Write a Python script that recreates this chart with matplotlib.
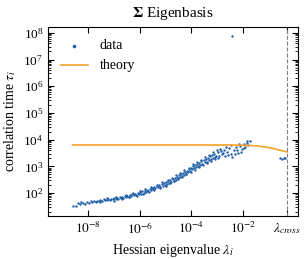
import numpy as np
import matplotlib
matplotlib.use("Agg")
import matplotlib.pyplot as plt
from matplotlib.ticker import LogLocator, NullLocator, NullFormatter

plt.rcParams['font.family'] = 'Liberation Serif'
plt.rcParams['mathtext.fontset'] = 'stix'

# data (log10 of eigenvalue, log10 of correlation time)
data_logx = [-8.58, -8.45, -8.40, -8.33, -8.28, -8.20, -8.12, -8.05, -7.98, -7.90, -7.84, -7.77,
             -7.70, -7.64, -7.58, -7.52, -7.46, -7.40, -7.34, -7.28, -7.22, -7.16, -7.10, -7.04,
             -6.98, -6.93, -6.88, -6.83, -6.78, -6.73, -6.68, -6.63, -6.58, -6.53, -6.48, -6.43,
             -6.38, -6.33, -6.28, -6.23, -6.18, -6.13, -6.08, -6.03,
             -5.98, -5.94, -5.90, -5.85, -5.80, -5.76, -5.72, -5.67, -5.62, -5.58, -5.54, -5.50,
             -5.45, -5.40, -5.35, -5.30, -5.25, -5.20, -5.15, -5.10, -5.05, -5.02,
             -4.97, -4.93, -4.89, -4.85, -4.81, -4.77, -4.73, -4.69, -4.65, -4.61, -4.57, -4.53,
             -4.49, -4.45, -4.41, -4.37, -4.33, -4.29, -4.25, -4.21, -4.17, -4.13, -4.09, -4.05, -4.01,
             -3.97, -3.93, -3.89, -3.85, -3.81, -3.77, -3.73, -3.69, -3.65, -3.61, -3.57, -3.53,
             -3.49, -3.45, -3.41, -3.37, -3.33, -3.29, -3.25, -3.21, -3.17, -3.13, -3.09, -3.05,
             -2.98, -2.92, -2.86, -2.80, -2.74, -2.68, -2.62, -2.55, -2.48, -2.42, -2.35, -2.28,
             -2.20, -2.12, -2.05, -1.98, -1.92, -1.86, -1.80, -1.74,
             -0.58, -0.50, -0.42, -0.36,
             -2.43,
             # second layer filling out the band
             -7.55, -7.25, -7.00, -6.90, -6.70, -6.55, -6.40, -6.25, -6.10, -6.00,
             -5.88, -5.78, -5.65, -5.55, -5.43, -5.33, -5.22, -5.12, -5.00, -4.91,
             -4.83, -4.75, -4.67, -4.59, -4.51, -4.43, -4.35, -4.27, -4.19, -4.11,
             -4.03, -3.95, -3.87, -3.79, -3.71, -3.63, -3.55, -3.47, -3.39, -3.31,
             -3.23, -3.15, -3.07, -3.01, -2.95, -2.89, -2.77, -2.65, -2.58, -2.45,
             -2.32, -2.24, -2.16, -2.08, -1.95, -1.83]
data_logy = [1.52, 1.50, 1.62, 1.58, 1.65, 1.63, 1.60, 1.67, 1.64, 1.69, 1.66, 1.70,
             1.68, 1.72, 1.69, 1.74, 1.71, 1.76, 1.73, 1.75, 1.78, 1.74, 1.79, 1.77,
             1.80, 1.76, 1.82, 1.79, 1.84, 1.80, 1.86, 1.83, 1.88, 1.85, 1.90, 1.87,
             1.93, 1.89, 1.95, 1.92, 1.97, 1.94, 2.00, 1.96,
             2.03, 1.98, 2.06, 2.02, 2.09, 2.05, 2.12, 2.08, 2.15, 2.11, 2.19, 2.14,
             2.22, 2.18, 2.25, 2.21, 2.29, 2.24, 2.33, 2.28, 2.37, 2.31,
             2.40, 2.34, 2.44, 2.39, 2.48, 2.42, 2.52, 2.46, 2.56, 2.50, 2.60, 2.55,
             2.66, 2.60, 2.70, 2.64, 2.74, 2.69, 2.79, 2.73, 2.84, 2.78, 2.89, 2.83, 2.95,
             2.90, 3.00, 2.93, 3.05, 2.97, 3.10, 3.02, 3.14, 3.06, 3.19, 3.10, 3.24,
             3.15, 3.29, 3.18, 3.33, 3.22, 3.38, 3.26, 3.42, 3.30, 3.47, 3.35, 3.40,
             3.52, 3.38, 3.58, 3.45, 3.62, 3.40, 3.55, 3.68, 3.48, 3.35, 3.60, 3.72,
             3.50, 3.78, 3.65, 3.85, 3.74, 3.88, 3.80, 3.93,
             3.32, 3.28, 3.30, 3.33,
             7.88,
             1.66, 1.81, 1.72, 1.86, 1.77, 1.93, 1.84, 2.01, 1.90, 2.07,
             1.96, 2.14, 2.03, 2.22, 2.10, 2.31, 2.18, 2.40, 2.28, 2.50,
             2.36, 2.58, 2.44, 2.66, 2.52, 2.76, 2.61, 2.86, 2.70, 2.94,
             2.80, 3.07, 2.88, 3.15, 2.96, 3.24, 3.04, 3.34, 3.12, 3.44,
             3.20, 3.53, 3.28, 3.60, 3.30, 3.66, 3.50, 3.72, 3.42, 3.80,
             3.45, 3.62, 3.84, 3.55, 3.70, 3.95]

theory_logx = [-8.6, -6.0, -4.0, -3.0, -2.5, -2.0, -1.7, -1.4, -1.1, -0.8, -0.55, -0.3]
theory_logy = [3.80, 3.80, 3.80, 3.80, 3.80, 3.79, 3.78, 3.76, 3.72, 3.66, 3.60, 3.54]

lam_cross = 10 ** -0.3
xtick_vals = [1e-8, 1e-6, 1e-4, 1e-2, lam_cross]
xtick_labels = [r'$10^{-8}$', r'$10^{-6}$', r'$10^{-4}$', r'$10^{-2}$', r'$\lambda_{cross}$']

fig = plt.figure(figsize=(3.06, 2.59), dpi=100)
ax = fig.add_axes([0.157, 0.166, 0.817, 0.730])

ax.scatter(np.power(10.0, data_logx), np.power(10.0, data_logy), s=3, color='#1f5fa8',
           linewidths=0, label='data')
ax.plot(np.power(10.0, theory_logx), np.power(10.0, theory_logy), color='#f7a32a', lw=1.2,
        label='theory')
ax.axvline(lam_cross, color='gray', ls='--', lw=0.8)

ax.set_xscale('log')
ax.set_yscale('log')
ax.set_xlim(10 ** -9.55, 10 ** 0.13)
ax.set_ylim(10 ** 1.14, 10 ** 8.22)

ax.set_xticks(xtick_vals)
ax.set_xticklabels(xtick_labels)
ax.xaxis.set_minor_locator(NullLocator())
ax.yaxis.set_major_locator(LogLocator(base=10, numticks=20))
ax.yaxis.set_minor_locator(LogLocator(base=10, subs=np.arange(2, 10), numticks=20))
ax.yaxis.set_minor_formatter(NullFormatter())
ax.tick_params(which='both', direction='in', top=True, right=True, labelsize=9.5)
ax.tick_params(which='major', length=4)
ax.tick_params(which='minor', length=2)

ax.set_xlabel(r'Hessian eigenvalue $\lambda_i$', fontsize=10)
ax.set_ylabel(r'correlation time $\tau_i$', fontsize=10)
ax.set_title(r'$\mathbf{\Sigma}$ Eigenbasis', fontsize=11, pad=7)

ax.legend(loc='upper left', frameon=False, fontsize=10, markerscale=1.5, handlelength=2.0)

fig.savefig('out.png', dpi=100)
